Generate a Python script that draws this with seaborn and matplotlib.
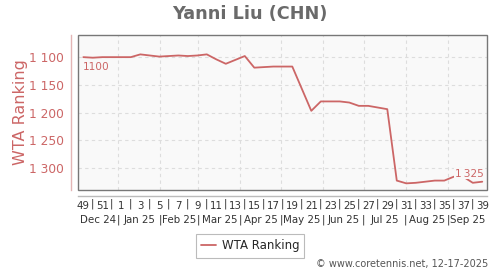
import datetime as dt
import numpy as np
import pandas as pd
import matplotlib
matplotlib.use("Agg")
import matplotlib.pyplot as plt
import matplotlib.transforms as mtrans
from matplotlib.patches import Rectangle
import seaborn as sns

# ---- data ----
week_labels = [49, 50, 51, 52] + list(range(1, 40))
ranking = [1100, 1101, 1100, 1100, 1100, 1100, 1095, 1097, 1099, 1098,
           1097, 1098, 1097, 1095, 1104, 1112, 1105, 1098, 1119, 1118,
           1117, 1117, 1117, np.nan, 1197, 1180, 1180, 1180, 1182, 1188,
           1188, 1191, 1194, 1323, 1328, 1327, 1325, 1323, 1323, 1316,
           1316, 1327, 1325]
month_labels = ["Dec 24", "Jan 25", "Feb 25", "Mar 25", "Apr 25", "May 25",
                "Jun 25", "Jul 25", "Aug 25", "Sep 25"]
month_starts = ["2025-01-01", "2025-02-01", "2025-03-01", "2025-04-01",
                "2025-05-01", "2025-06-01", "2025-07-01", "2025-08-01",
                "2025-09-01"]
y_ticks = [1100, 1150, 1200, 1250, 1300]
title = "Yanni Liu (CHN)"
series_name = "WTA Ranking"
credit = "\u00a9 www.coretennis.net, 12-17-2025"

RED = "#cc6666"
BG = "#f9f9f9"

df = pd.DataFrame({"idx": np.arange(len(ranking)), "rank": ranking}).dropna()

sns.set_style("white")
fig = plt.figure(figsize=(5, 2.7), dpi=100)
ax = fig.add_axes([78 / 500, 1 - 190 / 270, (487.3 - 78) / 500, 155 / 270])
ax.set_facecolor(BG)

sns.lineplot(data=df, x="idx", y="rank", ax=ax, color=RED, linewidth=1.3,
             label=series_name, legend=False)

xmin, xmax = -0.56, 42.53
ax.set_xlim(xmin, xmax)
ax.set_ylim(1340, 1060)

# month boundaries in week-index units
origin = dt.datetime(2024, 12, 6, 6)
bounds = [(pd.Timestamp(d).to_pydatetime() - origin).total_seconds() / (7 * 86400)
          for d in month_starts]

ax.set_xticks(bounds)
ax.set_xticklabels([])
ax.tick_params(axis="x", which="major", length=4, direction="inout",
               color="#bbbbbb", width=0.8)
even_idx = list(range(0, len(week_labels), 2))
ax.set_xticks(even_idx, minor=True)
ax.set_xticklabels([str(week_labels[i]) for i in even_idx], minor=True)
ax.tick_params(axis="x", which="minor", length=0, pad=4, labelsize=7.4,
               labelcolor="#333333")

ax.set_yticks(y_ticks)
ax.set_yticklabels([f"{v:,}".replace(",", " ") for v in y_ticks])
ax.tick_params(axis="y", length=4, direction="inout", color="#999999",
               width=0.8, labelsize=8.8, labelcolor=RED, pad=3)

ax.grid(True, which="major", color="#dddddd", linestyle=(0, (3, 3)),
        linewidth=0.8)

for s in ["top", "right"]:
    ax.spines[s].set_visible(False)
ax.spines["left"].set_position(("outward", 5))
ax.spines["left"].set_color("#e3b5b5")
ax.spines["left"].set_linewidth(1.0)
ax.spines["bottom"].set_position(("outward", 4))
ax.spines["bottom"].set_color("#bbbbbb")
ax.spines["bottom"].set_linewidth(1.0)
ax.add_patch(Rectangle((0, 0), 1, 1, transform=ax.transAxes, fill=False,
                       edgecolor="#777777", linewidth=1.0, clip_on=False,
                       zorder=5))

ax.set_xlabel("")
ax.set_ylabel(series_name, fontsize=11.5, color=RED)
ax.yaxis.set_label_coords(-0.122, 0.5)

trans = mtrans.blended_transform_factory(ax.transData, ax.transAxes)
# separators between week labels
for i in range(1, len(week_labels) - 1, 2):
    ax.text(i, -0.09, "|", transform=trans, ha="center", va="center",
            fontsize=7.4, color="#333333")
# month labels and separators
edges = [xmin] + bounds + [xmax]
for k, lab in enumerate(month_labels):
    ax.text((edges[k] + edges[k + 1]) / 2, -0.194, lab, transform=trans,
            ha="center", va="center", fontsize=7.4, color="#333333")
for b in bounds:
    ax.text(b, -0.194, "|", transform=trans, ha="center", va="center",
            fontsize=7.4, color="#333333")

# first / last value annotations
first_i, first_v = df["idx"].iloc[0], df["rank"].iloc[0]
last_i, last_v = df["idx"].iloc[-1], df["rank"].iloc[-1]
ax.annotate(f"{int(first_v)}", xy=(first_i, first_v), xytext=(-0.5, -6.8),
            textcoords="offset points", ha="left", va="center",
            fontsize=7.6, color=RED)
ax.annotate(f"{int(last_v):,}".replace(",", "\u2009"), xy=(last_i, last_v),
            xytext=(0.8, 5.8), textcoords="offset points", ha="right",
            va="center", fontsize=7.6, color=RED, zorder=4,
            bbox=dict(facecolor=BG, edgecolor="none", pad=0.6))

fig.text(0.5, 1 - 14 / 270, title, ha="center", va="center", fontsize=12.7,
         fontweight="bold", color="#6a6a6a")

leg = fig.legend(handles=[ax.get_lines()[0]], labels=[series_name],
                 loc="center", bbox_to_anchor=(0.5, 1 - 246 / 270),
                 fontsize=8.5, frameon=True, fancybox=False,
                 edgecolor="#aaaaaa", handlelength=1.3, borderpad=0.45,
                 handletextpad=0.45)
leg.get_frame().set_linewidth(0.8)

fig.text(488 / 500, 1 - 264 / 270, credit, ha="right", va="center",
         fontsize=7, color="#555555")

fig.savefig("out.png", dpi=100)
